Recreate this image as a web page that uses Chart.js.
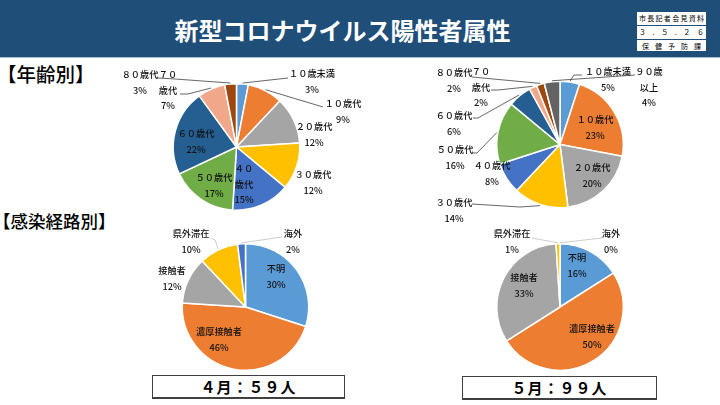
<!DOCTYPE html>
<html lang="ja">
<head>
<meta charset="utf-8">
<script src="https://cdn.jsdelivr.net/npm/chart.js@4"></script>
<style>
  html, body { margin: 0; padding: 0; background: #fff; }
  body { width: 720px; height: 405px; position: relative; overflow: hidden; font-family: "Noto Sans CJK JP", sans-serif; color: #000; }
  canvas { position: absolute; left: 0; top: 0; pointer-events: none; }
  #header { position: absolute; left: 0; top: 0; width: 720px; height: 58px; background: #1f4e79; border-bottom: 1px solid #a9bccd; box-sizing: border-box; }
  #title { position: absolute; left: 0; top: 10px; width: 685px; text-align: center; color: #fff; font-size: 24px; font-weight: 700; line-height: 40px; }
  #stamp { position: absolute; left: 636px; top: 11px; width: 71px; height: 41px; background: #fff; box-sizing: border-box; border: 1px solid #1f4e79; }
  #stamp div { height: 13px; line-height: 13px; font-size: 7px; display: flex; justify-content: space-between; padding: 0 2px; border-bottom: 1px solid #1f4e79; }
  #stamp div:last-child { border-bottom: 0; justify-content: space-around; }
  .head { position: absolute; font-weight: 500; line-height: 26px; white-space: nowrap; }
  .total { position: absolute; top: 375px; height: 24px; box-sizing: border-box; border: 1px solid #404040; border-bottom-width: 2px; text-align: center; font-size: 15px; font-weight: 700; line-height: 22px; letter-spacing: 1px; }
</style>
</head>
<body>
<div id="header">
  <div id="title">新型コロナウイルス陽性者属性</div>
  <div id="stamp">
    <div><span>市</span><span>長</span><span>記</span><span>者</span><span>会</span><span>見</span><span>資</span><span>料</span></div>
    <div><span>３</span><span>.</span><span>５</span><span>.</span><span>２</span><span>６</span></div>
    <div><span>保</span><span>健</span><span>予</span><span>防</span><span>課</span></div>
  </div>
</div>
<div class="head" style="left:-3px;top:61px;font-size:19.5px">【年齢別】</div>
<div class="head" style="left:-7px;top:208px;font-size:17.5px">【感染経路別】</div>
<div class="total" style="left:152px;width:193px">４月：５９人</div>
<div class="total" style="left:462px;width:195px;top:376px">５月：９９人</div>

<canvas id="ageApril" width="720" height="405"></canvas>
<canvas id="ageMay" width="720" height="405"></canvas>
<canvas id="routeApril" width="720" height="405"></canvas>
<canvas id="routeMay" width="720" height="405"></canvas>

<script>
"use strict";

// data (percent as printed on the slices)
const ageNames = ['１０歳未満', '１０歳代', '２０歳代', '３０歳代', '４０歳代', '５０歳代', '６０歳代', '７０歳代', '８０歳代', '９０歳以上'];
const routeNames = ['不明', '濃厚接触者', '接触者', '県外滞在', '海外'];

const ageAprilValues = [3, 9, 12, 12, 15, 17, 22, 7, 3, 0];
const ageMayValues = [5, 23, 20, 14, 8, 16, 6, 2, 2, 4];
const routeAprilValues = [30, 46, 12, 10, 2];
const routeMayValues = [16, 50, 33, 1, 0];

const ageColors = ['#5b9bd5', '#ed7d31', '#a5a5a5', '#ffc000', '#4472c4', '#70ad47', '#255e91', '#f1a78a', '#9e480e', '#636363'];
const routeColors = ['#5b9bd5', '#ed7d31', '#a5a5a5', '#ffc000', '#4472c4'];

// label layout, one row per slice: x, y of first line, wrap length, leader points
const dark = '#404040';
const light = '#bfbfbf';

const ageAprilNotes = [
  { x: 312, y: 74, leader: [[288, 78]] },
  { x: 343, y: 104, leader: [[323, 107]] },
  { x: 314, y: 127 },
  { x: 313, y: 175 },
  { x: 244, y: 169, wrap: 2 },
  { x: 214, y: 178 },
  { x: 196, y: 134 },
  { x: 168, y: 75, wrap: 2, leader: [[180, 94], [188, 94]] },
  { x: 140, y: 75, leader: [[158, 78], [175, 79]] },
  null
];
const ageMayNotes = [
  { x: 608, y: 72, leader: [[582, 75], [574, 75]] },
  { x: 595, y: 120 },
  { x: 592, y: 168 },
  { x: 454, y: 203, leader: [[472, 204], [520, 207]] },
  { x: 492, y: 166 },
  { x: 455, y: 150, leader: [[473, 153], [477, 153]] },
  { x: 454, y: 116, leader: [[473, 118], [478, 118]] },
  { x: 481, y: 72, wrap: 2, leader: [[491, 90], [498, 90]] },
  { x: 454, y: 73, leader: [[472, 77]] },
  { x: 649, y: 72, wrap: 3, leader: [[635, 75]] }
];
const routeAprilNotes = [
  { x: 276, y: 269 },
  { x: 219, y: 332 },
  { x: 172, y: 271 },
  { x: 191, y: 234, color: light, leader: [[211, 238], [215, 240]] },
  { x: 293, y: 234, color: light, leader: [[282, 237]] }
];
const routeMayNotes = [
  { x: 577, y: 258 },
  { x: 592, y: 329 },
  { x: 524, y: 278 },
  { x: 512, y: 234, color: light, leader: [[532, 238]] },
  { x: 611, y: 234, color: light, leader: [[602, 238]] }
];

// labels and leader lines, anchored on the slices of the chart
function notesPlugin(names, notes) {
  return {
    id: 'notes',
    afterDraw(chart) {
      const c = chart.ctx;
      const values = chart.data.datasets[0].data;
      const total = values.reduce((a, b) => a + b, 0);
      const arcs = chart.getDatasetMeta(0).data;

      notes.forEach((n, i) => {
        if (!n) return;
        if (n.leader) {
          const arc = arcs[i];
          const mid = (arc.startAngle + arc.endAngle) / 2;
          const ex = arc.x + Math.cos(mid) * (arc.outerRadius + 1);
          const ey = arc.y + Math.sin(mid) * (arc.outerRadius + 1);
          c.strokeStyle = n.color || dark;
          c.lineWidth = 0.8;
          c.beginPath();
          c.moveTo(n.leader[0][0], n.leader[0][1]);
          n.leader.slice(1).forEach(p => c.lineTo(p[0], p[1]));
          c.lineTo(ex, ey);
          c.stroke();
        }
        let lines = [names[i]];
        if (n.wrap) lines = [names[i].slice(0, n.wrap), names[i].slice(n.wrap)];
        lines.push(Math.round(values[i] / total * 100) + '%');
        c.fillStyle = '#111';
        c.font = '500 9.2px "Noto Sans CJK JP"';
        c.textAlign = 'center';
        c.textBaseline = 'middle';
        lines.forEach((t, k) => c.fillText(t, n.x, n.y + k * 15.3));
      });
    }
  };
}

function drawPie(id, names, values, colors, notes, cx, cy, r) {
  new Chart(document.getElementById(id), {
    type: 'pie',
    data: {
      labels: names,
      datasets: [{ data: values, backgroundColor: colors, borderColor: '#fff', borderWidth: 1.5 }]
    },
    options: {
      responsive: false,
      animation: false,
      events: [],
      layout: { padding: { left: cx - r, right: 720 - cx - r, top: cy - r, bottom: 405 - cy - r } },
      plugins: { legend: { display: false }, tooltip: { enabled: false } }
    },
    plugins: [notesPlugin(names, notes)]
  });
}

drawPie('ageApril', ageNames, ageAprilValues, ageColors, ageAprilNotes, 236.5, 147, 64);
drawPie('ageMay', ageNames, ageMayValues, ageColors, ageMayNotes, 560, 144.5, 64);
drawPie('routeApril', routeNames, routeAprilValues, routeColors, routeAprilNotes, 245.5, 307, 64);
drawPie('routeMay', routeNames, routeMayValues, routeColors, routeMayNotes, 560, 307, 64);
</script>
</body>
</html>
